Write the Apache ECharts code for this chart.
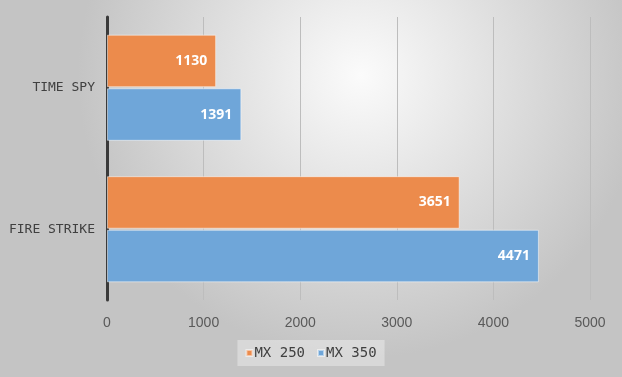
<!DOCTYPE html>
<html>
<head>
<meta charset="utf-8">
<script src="https://cdn.jsdelivr.net/npm/echarts@6/dist/echarts.min.js"></script>
<style>
  html, body { margin: 0; padding: 0; }
  #chart { width: 622px; height: 377px; }
</style>
</head>
<body>
<div id="chart"></div>
<script>
const categories = ['TIME SPY', 'FIRE STRIKE']
const mx250 = [1130, 3651]
const mx350 = [1391, 4471]
const xTicks = [0, 1000, 2000, 3000, 4000, 5000]

const labelFont = 'DejaVu Sans Mono'

const chart = echarts.init(document.getElementById('chart'))

function barLabel() {
  return {
    show: true,
    position: 'insideRight',
    distance: 9,
    color: '#fff',
    fontWeight: 'bold',
    fontSize: 14,
    fontFamily: 'Noto Sans'
  }
}

chart.setOption({
  backgroundColor: {
    type: 'radial', x: 0.58, y: 0.2, r: 0.75,
    colorStops: [
      { offset: 0, color: '#fbfbfb' },
      { offset: 1, color: '#c4c4c4' }
    ]
  },
  grid: { left: 107, right: 32, top: 17, bottom: 77 },
  legend: {
    data: ['MX 250', 'MX 350'],
    bottom: 11,
    left: 'center',
    itemWidth: 6,
    itemHeight: 6,
    itemGap: 12,
    icon: 'rect',
    padding: [6, 8],
    backgroundColor: 'rgba(255,255,255,0.35)',
    textStyle: { fontFamily: labelFont, fontSize: 14, color: '#404040', padding: [0, 0, 0, -3] }
  },
  xAxis: {
    type: 'value',
    min: xTicks[0],
    max: xTicks[xTicks.length - 1],
    interval: 1000,
    axisLine: { show: false },
    axisTick: { show: false },
    splitLine: { lineStyle: { color: '#bdbdbd', width: 1 } },
    axisLabel: {
      color: '#595959', fontSize: 14, fontFamily: 'Liberation Sans', margin: 16,
      formatter: (v) => String(v)
    }
  },
  yAxis: {
    type: 'category',
    data: categories,
    inverse: true,
    axisLine: { lineStyle: { color: '#3a3a3a', width: 3 } },
    axisTick: { show: false },
    axisLabel: { color: '#404040', fontSize: 13, fontFamily: labelFont, margin: 12 }
  },
  series: [
    {
      name: 'MX 250',
      type: 'bar',
      data: mx250,
      barCategoryGap: '25%',
      barGap: '2%',
      itemStyle: { color: '#ec8b4c', borderColor: 'rgba(255,255,255,0.5)', borderWidth: 1 },
      label: barLabel()
    },
    {
      name: 'MX 350',
      type: 'bar',
      data: mx350,
      barCategoryGap: '25%',
      barGap: '2%',
      itemStyle: { color: '#6fa6d9', borderColor: 'rgba(255,255,255,0.5)', borderWidth: 1 },
      label: barLabel()
    }
  ]
})
</script>
</body>
</html>
